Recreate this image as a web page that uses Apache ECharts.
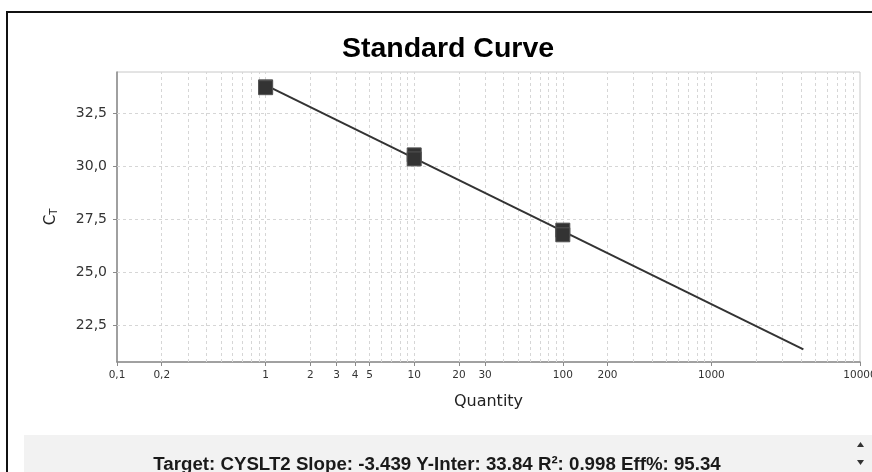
<!DOCTYPE html>
<html>
<head>
<meta charset="utf-8">
<script src="https://cdn.jsdelivr.net/npm/echarts@6/dist/echarts.min.js"></script>
<style>
html,body{margin:0;padding:0;background:#fff;}
#chart{width:872px;height:472px;}
</style>
</head>
<body>
<div id="chart"></div>
<script>
// ---- data ----
const quantities = [1, 1, 10, 10, 100, 100];
const ctValues = [33.76, 33.72, 30.55, 30.36, 27.0, 26.78];
const fitQuantity = [1, 4160];
const fitCt = [33.84, 21.38];
const xTickValues = [0.1, 0.2, 1, 2, 3, 4, 5, 10, 20, 30, 100, 200, 1000, 10000];
const xDecades = [0.1, 1, 10, 100, 1000];
const xMultiples = [1, 2, 3, 4, 5, 6, 7, 8, 9];
const yTickValues = [22.5, 25, 27.5, 30, 32.5];
const titleText = 'Standard Curve';
const xName = 'Quantity';
const summaryText = 'Target: CYSLT2 Slope: -3.439 Y-Inter: 33.84 R²: 0.998 Eff%: 95.34';

const xGridValues = [];
xDecades.forEach(d => xMultiples.forEach(m => {
  const v = +(d * m).toPrecision(6);
  if (v > 0.1) xGridValues.push(v);
}));

const gridLineStyle = {color: '#d6d6d6', width: 1, type: [3, 3]};
const markData = xGridValues.map(v => ({xAxis: v})).concat(yTickValues.map(v => ({yAxis: v})));

const chart = echarts.init(document.getElementById('chart'), null, {renderer: 'canvas'});
chart.setOption({
  animation: false,
  backgroundColor: '#ffffff',
  textStyle: {fontFamily: 'DejaVu Sans'},
  grid: {left: 117, top: 72, right: 12, bottom: 110, containLabel: false, outerBoundsMode: 'none', show: true, borderColor: '#c8c8c8', borderWidth: 1, backgroundColor: 'transparent'},
  xAxis: {
    type: 'log', logBase: 10, min: 0.1, max: 10000,
    name: xName, nameLocation: 'middle', nameGap: 32,
    nameTextStyle: {fontFamily: 'DejaVu Sans', fontSize: 16, color: '#222'},
    axisLine: {show: true, lineStyle: {color: '#8a8a8a', width: 1.5}},
    axisTick: {show: true, inside: false, length: 4, lineStyle: {color: '#8a8a8a'}, customValues: xTickValues},
    axisLabel: {
      customValues: xTickValues, margin: 8, fontSize: 10.5, color: '#333', fontFamily: 'DejaVu Sans',
      formatter: v => String(v).replace('.', ',')
    },
    splitLine: {show: false},
    minorTick: {show: false}, minorSplitLine: {show: false}
  },
  yAxis: {
    type: 'value', min: 20.78, max: 34.46,
    name: '{c|C}{t|T}', nameLocation: 'middle', nameGap: 58, nameRotate: 90,
    nameTextStyle: {rich: {c: {fontSize: 15, fontFamily: 'DejaVu Sans', color: '#222'}, t: {fontSize: 10, fontFamily: 'DejaVu Sans', color: '#222', verticalAlign: 'bottom'}}},
    axisLine: {show: true, lineStyle: {color: '#8a8a8a', width: 1.5}},
    axisTick: {show: true, inside: false, length: 4, lineStyle: {color: '#8a8a8a'}, customValues: yTickValues},
    axisLabel: {
      customValues: yTickValues, margin: 10, fontSize: 14, color: '#333', fontFamily: 'DejaVu Sans',
      formatter: v => v.toFixed(1).replace('.', ',')
    },
    splitLine: {show: false}
  },
  graphic: [
    {type: 'text', x: 448, y: 64, z: 10, style: {text: titleText, font: 'bold 28.5px "Liberation Sans", Arial, sans-serif', fill: '#000', align: 'center', verticalAlign: 'bottom'}},
    {type: 'rect', shape: {x: 24, y: 435, width: 848, height: 40}, style: {fill: '#f2f2f2'}, z: 1},
    {type: 'text', x: 437, y: 474, z: 10, style: {text: summaryText, font: 'bold 18.7px "Liberation Sans", Arial, sans-serif', fill: '#1a1a1a', align: 'center', verticalAlign: 'bottom'}},
    {type: 'polygon', shape: {points: [[857, 447], [864, 447], [860.5, 442]]}, style: {fill: '#333'}, z: 10},
    {type: 'polygon', shape: {points: [[857, 460], [864, 460], [860.5, 465]]}, style: {fill: '#333'}, z: 10},
    {type: 'rect', shape: {x: 6, y: 11, width: 2, height: 470}, style: {fill: '#111'}, z: 10},
    {type: 'rect', shape: {x: 6, y: 11, width: 870, height: 2}, style: {fill: '#111'}, z: 10}
  ],
  series: [
    {
      type: 'line', data: [], z: 1, silent: true,
      markLine: {silent: true, z: 1, symbol: ['none', 'none'], label: {show: false}, lineStyle: gridLineStyle, emphasis: {disabled: true}, animation: false, data: markData}
    },
    {
      type: 'line', z: 5, silent: true, symbol: 'none',
      lineStyle: {color: '#333', width: 2},
      data: fitQuantity.map((q, i) => [q, fitCt[i]])
    },
    {
      type: 'scatter', z: 6, symbol: 'rect', symbolSize: 14,
      itemStyle: {color: '#333', borderColor: '#555', borderWidth: 1, opacity: 1},
      data: quantities.map((q, i) => [q, ctValues[i]])
    }
  ]
});
</script>
</body>
</html>
